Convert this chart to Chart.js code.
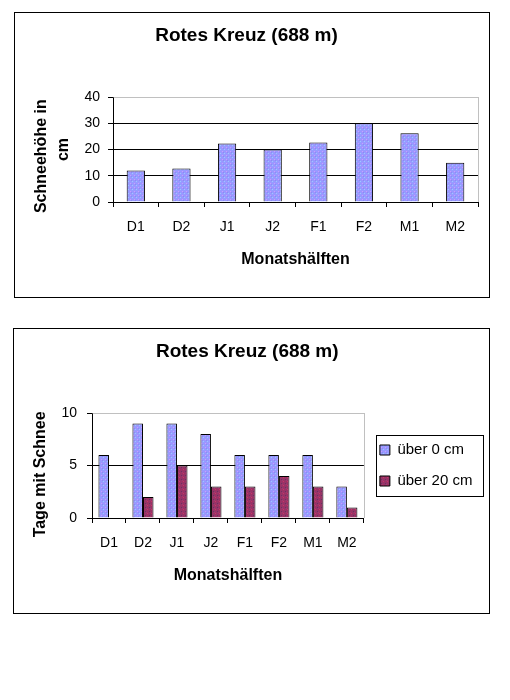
<!DOCTYPE html>
<html>
<head>
<meta charset="utf-8">
<script src="https://cdn.jsdelivr.net/npm/chart.js@4.4.1/dist/chart.umd.min.js"></script>
<style>
  body { margin: 0; background: #fff; }
  .rahmen { position: absolute; border: 1px solid #000; background: #fff; }
  #rahmen1 { left: 14px; top: 12px; width: 474px; height: 284px; }
  #rahmen2 { left: 13px; top: 328px; width: 475px; height: 284px; }
  canvas { display: block; }
</style>
</head>
<body>
<div class="rahmen" id="rahmen1"><canvas id="grafico1" width="474" height="284"></canvas></div>
<div class="rahmen" id="rahmen2"><canvas id="grafico2" width="475" height="284"></canvas></div>
<script>
// Daten
const monatshaelften = ['D1', 'D2', 'J1', 'J2', 'F1', 'F2', 'M1', 'M2'];
const schneehoehe = [12, 12.8, 22.3, 20, 22.7, 30, 26.2, 15];
const tageUeber0 = [6, 9, 9, 8, 6, 6, 6, 3];
const tageUeber20 = [0, 2, 5, 3, 3, 4, 3, 1];

Chart.defaults.font.family = '"Liberation Sans", Arial, sans-serif';
Chart.defaults.color = '#000';

// Punktmuster wie in Excel
function muster(basis, punkte) {
    const c = document.createElement('canvas');
    c.width = 4; c.height = 4;
    const g = c.getContext('2d');
    g.fillStyle = basis;
    g.fillRect(0, 0, 4, 4);
    punkte.forEach(p => { g.fillStyle = p[2]; g.fillRect(p[0], p[1], 1, 1); });
    return g.createPattern(c, 'repeat');
}
const blau = muster('#9999ff', [[1, 0, '#99ccff'], [3, 2, '#cc99ff'], [0, 3, '#8c8cf2']]);
const weinrot = muster('#993366', [[1, 0, '#cc3366'], [3, 2, '#663366'], [0, 3, '#a33a70']]);

// gepunkteter Rand oben und rechts
const plotRand = {
    id: 'plotRand',
    afterDraw(chart) {
        const a = chart.chartArea;
        const ctx = chart.ctx;
        ctx.save();
        ctx.strokeStyle = '#808080';
        ctx.lineWidth = 1;
        ctx.setLineDash([1, 1]);
        ctx.beginPath();
        ctx.moveTo(Math.round(a.left) + 0.5, Math.round(a.top) + 0.5);
        ctx.lineTo(Math.round(a.right) + 0.5, Math.round(a.top) + 0.5);
        ctx.lineTo(Math.round(a.right) + 0.5, Math.round(a.bottom));
        ctx.stroke();
        ctx.restore();
    }
};

// Rahmen um die Legende
const legendenRahmen = {
    id: 'legendenRahmen',
    afterDraw(chart) {
        const lg = chart.legend;
        if (!lg || !lg.legendHitBoxes || !lg.legendHitBoxes.length) return;
        const hb = lg.legendHitBoxes;
        const x1 = Math.round(hb[0].left - 4) + 0.5;
        const x2 = Math.round(lg.right + 2) + 0.5;
        const y1 = Math.round(hb[0].top - 7.5) + 0.5;
        const y2 = Math.round(hb[hb.length - 1].top + hb[hb.length - 1].height + 7.5) + 0.5;
        const ctx = chart.ctx;
        ctx.save();
        ctx.strokeStyle = '#000';
        ctx.lineWidth = 1;
        ctx.strokeRect(x1, y1, x2 - x1, y2 - y1);
        ctx.restore();
    }
};

function achsen(max, schritt, yBreite, yTitel, yTitelAbstand, yTickAbstand, yTitelZeile) {
    return {
        x: {
            grid: { drawOnChartArea: false, offset: true, tickLength: 5, tickColor: '#000' },
            border: { color: '#000' },
            ticks: { font: { size: 14 }, padding: 12, maxRotation: 0 },
            title: { display: true, text: 'Monatshälften', font: { size: 16, weight: 'bold' }, padding: { top: 0, bottom: 27.5 } },
            afterFit(s) { s.height = 95; }
        },
        y: {
            min: 0,
            max: max,
            grid: {
                color: c => (c.tick && c.tick.value === max) ? 'rgba(0,0,0,0)' : '#000',
                tickColor: '#000',
                tickLength: 5
            },
            border: { color: '#000' },
            ticks: { stepSize: schritt, font: { size: 14 }, padding: yTickAbstand },
            title: { display: true, text: yTitel, font: { size: 16, weight: 'bold', lineHeight: yTitelZeile }, padding: { top: yTitelAbstand, bottom: 0 } },
            afterFit(s) { s.width = yBreite; }
        }
    };
}

const titel = {
    display: true,
    text: 'Rotes Kreuz (688 m)',
    font: { size: 19, weight: 'bold', lineHeight: 1.2 },
    color: '#000',
    padding: { top: 11.6, bottom: 49.6 }
};

new Chart(document.getElementById('grafico1'), {
    type: 'bar',
    data: {
        labels: monatshaelften,
        datasets: [{
            label: 'Schneehöhe',
            data: schneehoehe,
            backgroundColor: blau,
            borderColor: '#000',
            borderWidth: 1,
            barPercentage: 0.4,
            categoryPercentage: 1.0
        }]
    },
    options: {
        responsive: false,
        animation: false,
        layout: { padding: { left: 0, right: 11, top: 0, bottom: 0 } },
        plugins: { title: titel, legend: { display: false }, tooltip: { enabled: false } },
        // Leerzeichen am Ende schieben die Zeile etwas nach unten, wie im Original
        scales: achsen(40, 10, 98, ['Schneehöhe in   ', 'cm'], 15.25, 8, 1.4)
    },
    plugins: [plotRand]
});

new Chart(document.getElementById('grafico2'), {
    type: 'bar',
    data: {
        labels: monatshaelften,
        datasets: [{
            label: 'über 0 cm',
            data: tageUeber0,
            backgroundColor: blau,
            borderColor: '#000',
            borderWidth: 1,
            barPercentage: 1.0,
            categoryPercentage: 0.62
        }, {
            label: 'über 20 cm',
            data: tageUeber20,
            backgroundColor: weinrot,
            borderColor: '#000',
            borderWidth: 1,
            barPercentage: 1.0,
            categoryPercentage: 0.62
        }]
    },
    options: {
        responsive: false,
        animation: false,
        layout: { padding: { left: 0, right: 8.5, top: 0, bottom: 0 } },
        plugins: {
            title: titel,
            legend: {
                position: 'right',
                fullSize: false,
                labels: { boxWidth: 10, boxHeight: 10, padding: 16, font: { size: 15 }, color: '#000' }
            },
            tooltip: { enabled: false }
        },
        scales: achsen(10, 5, 78, 'Tage mit Schnee    ', 17, 10, 1.2)
    },
    plugins: [plotRand, legendenRahmen]
});
</script>
</body>
</html>
